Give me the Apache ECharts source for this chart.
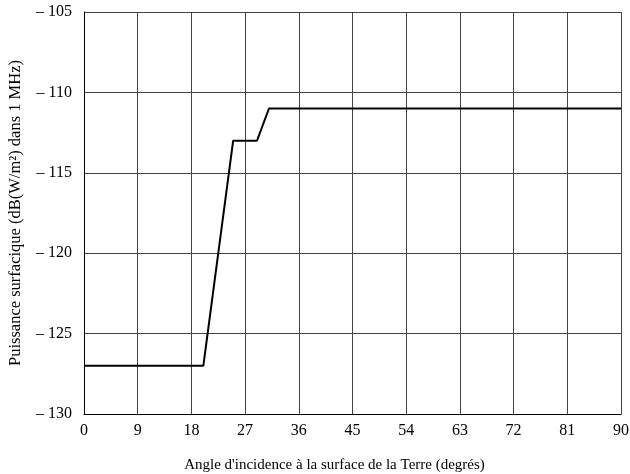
<!DOCTYPE html>
<html>
<head>
<meta charset="utf-8">
<script src="https://cdn.jsdelivr.net/npm/echarts@6/dist/echarts.min.js"></script>
<style>
html,body{margin:0;padding:0;background:#fff;}
#chart{width:630px;height:474px;}
</style>
</head>
<body>
<div id="chart"></div>
<script>
// Power flux-density mask versus angle of arrival
const angles = [0, 20, 25, 29, 31, 90];
const pfd = [-127, -127, -113, -113, -111, -111];
const xTicks = [0, 9, 18, 27, 36, 45, 54, 63, 72, 81, 90];
const yTicks = [-130, -125, -120, -115, -110, -105];

const font = 'Liberation Serif';
const chart = echarts.init(document.getElementById('chart'));
chart.setOption({
  animation: false,
  grid: { left: 84, right: 9, top: 12, bottom: 60, containLabel: false, outerBoundsMode: 'none' },
  xAxis: {
    type: 'value', min: xTicks[0], max: xTicks[xTicks.length - 1], interval: 9,
    name: "Angle d'incidence à la surface de la Terre (degrés)",
    nameLocation: 'middle', nameGap: 44,
    nameTextStyle: { fontFamily: font, fontSize: 15, color: '#000', padding: [0, 36, 0, 0] },
    axisLine: { show: true, lineStyle: { color: '#000', width: 1 } },
    axisTick: { show: false },
    axisLabel: { fontFamily: font, fontSize: 16, color: '#000', margin: 9 },
    splitLine: { show: true, lineStyle: { color: '#444', width: 1 } }
  },
  yAxis: {
    type: 'value', min: yTicks[0], max: yTicks[yTicks.length - 1], interval: 5,
    name: 'Puissance surfacique (dB(W/m²) dans 1 MHz)',
    nameLocation: 'middle', nameGap: 60, nameRotate: 90,
    nameTextStyle: { fontFamily: font, fontSize: 16.5, color: '#000' },
    axisLine: { show: true, lineStyle: { color: '#000', width: 1 } },
    axisTick: { show: false },
    axisLabel: {
      fontFamily: font, fontSize: 16, color: '#000', margin: 12,
      formatter: v => '– ' + Math.abs(v)
    },
    splitLine: { show: true, lineStyle: { color: '#444', width: 1 } }
  },
  series: [{
    type: 'line',
    data: angles.map((a, i) => [a, pfd[i]]),
    symbol: 'none',
    lineStyle: { color: '#000', width: 2 }
  }]
});
</script>
</body>
</html>
